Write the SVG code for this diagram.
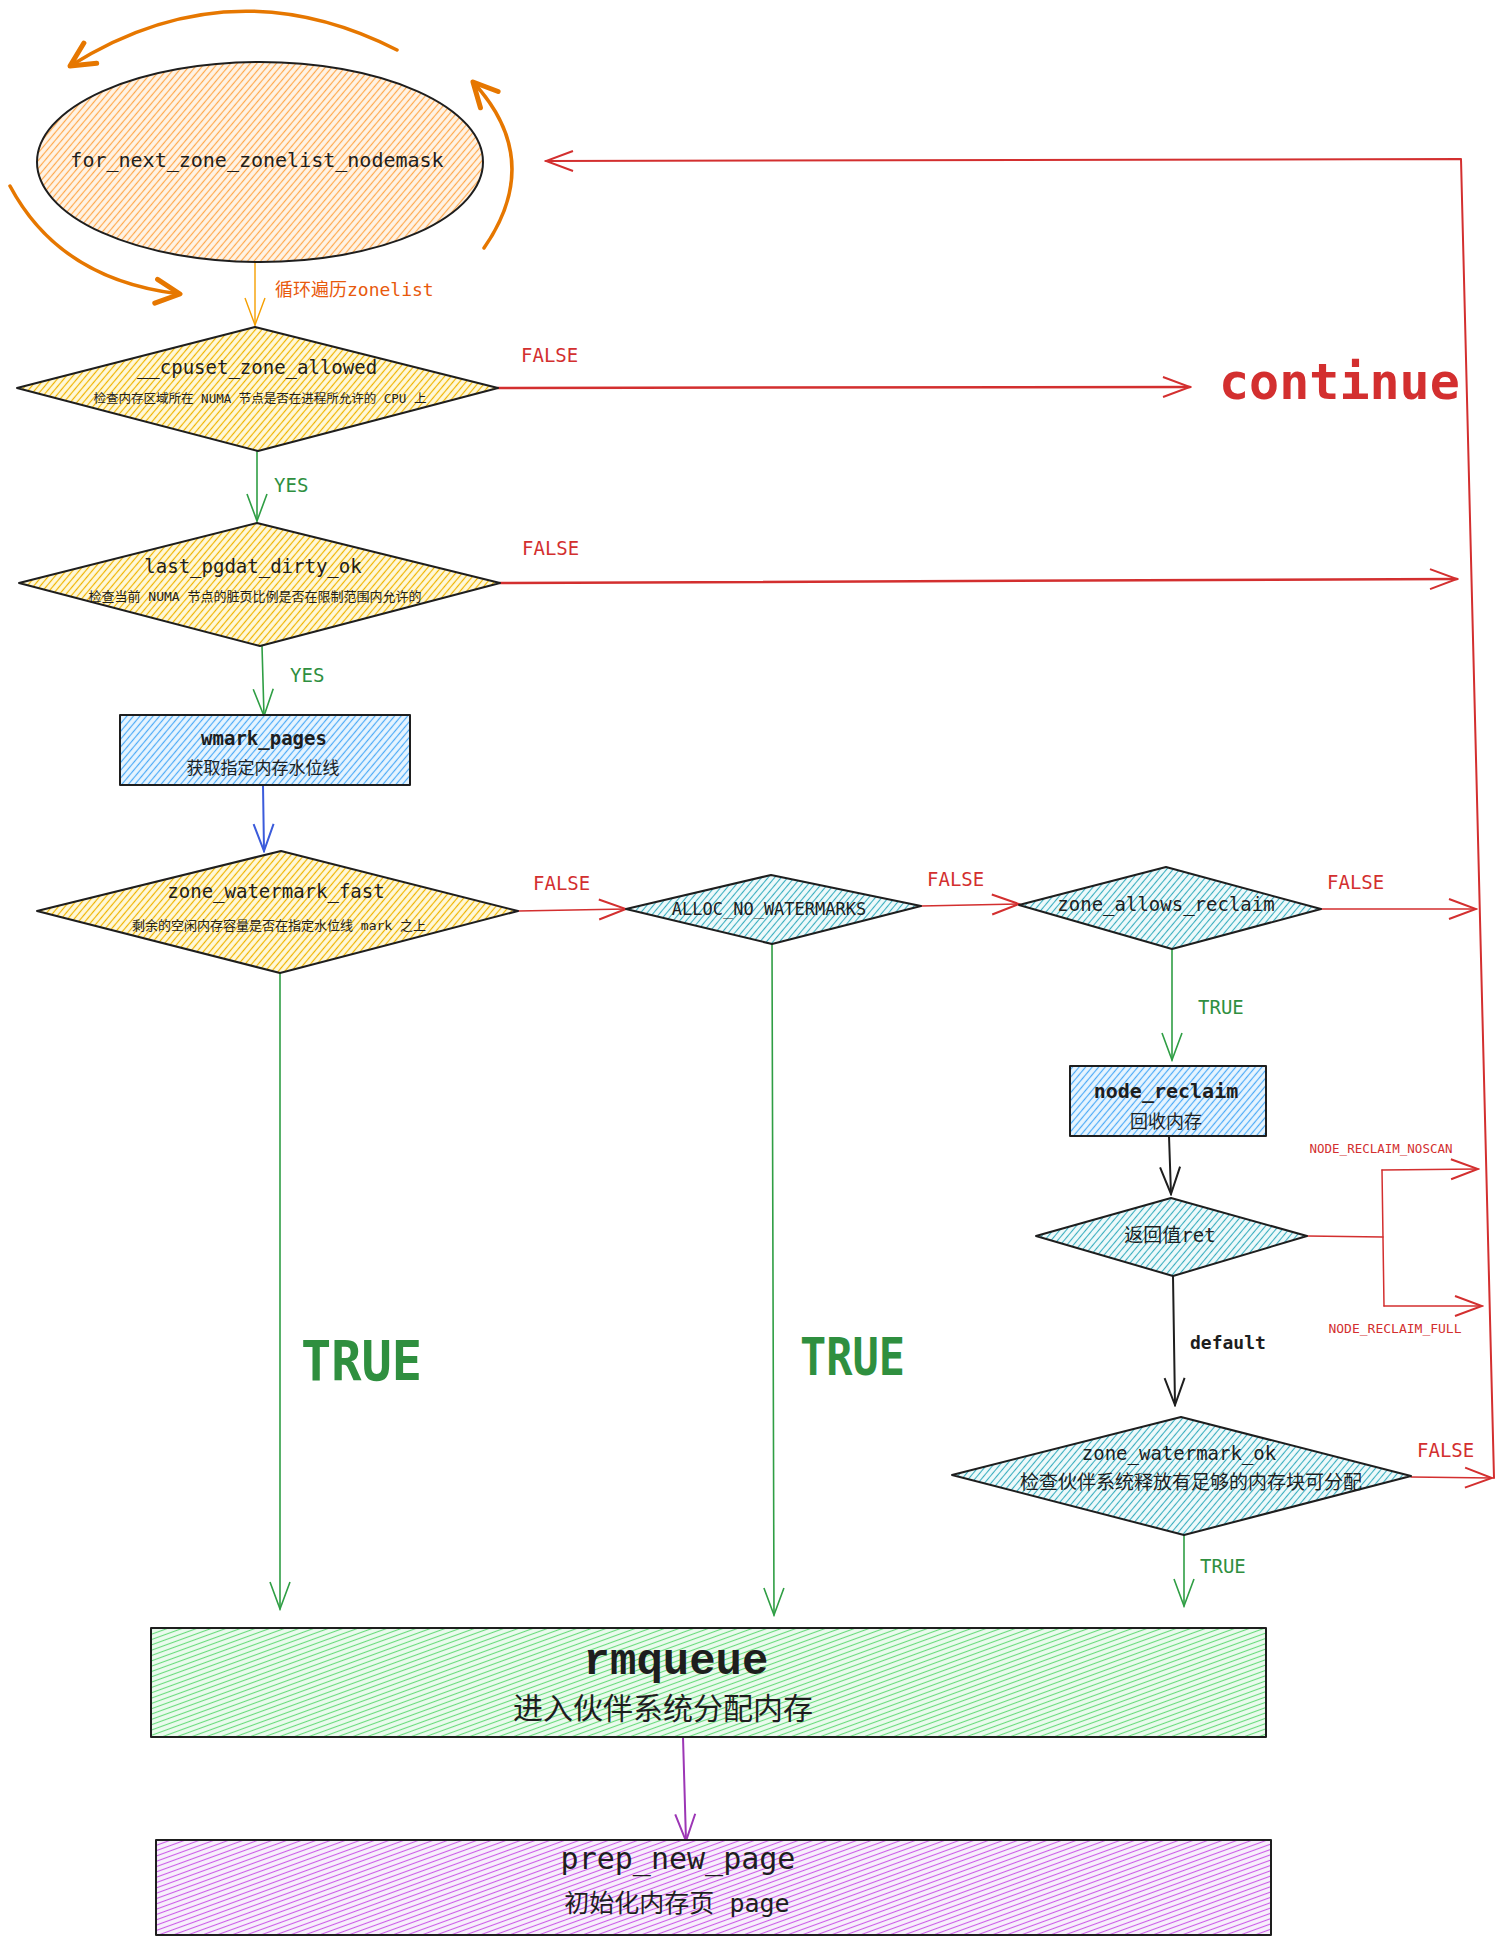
<svg xmlns="http://www.w3.org/2000/svg" width="1500" height="1940" viewBox="0 0 1500 1940">
<style>
.t{font-family:'DejaVu Sans Mono','Noto Sans CJK SC',monospace;fill:#1e1e1e}
.c{text-anchor:middle}
.red{fill:#d32f2f}
.grn{fill:#2f8f3f}
.shape{stroke:#1e1e1e;stroke-width:2;stroke-linejoin:round}
.ln{fill:none;stroke-linecap:round;stroke-linejoin:round}
</style>
<defs>
<pattern id="hO" patternUnits="userSpaceOnUse" width="5" height="5" patternTransform="rotate(40)"><rect width="5" height="5" fill="#fff4e6"/><line x1="2.5" y1="0" x2="2.5" y2="5" stroke="#ffa94d" stroke-width="1.2"/></pattern>
<pattern id="hY" patternUnits="userSpaceOnUse" width="5" height="5" patternTransform="rotate(40)"><rect width="5" height="5" fill="#fff9db"/><line x1="2.5" y1="0" x2="2.5" y2="5" stroke="#f0b400" stroke-width="1.2"/></pattern>
<pattern id="hB" patternUnits="userSpaceOnUse" width="5" height="5" patternTransform="rotate(40)"><rect width="5" height="5" fill="#e7f5ff"/><line x1="2.5" y1="0" x2="2.5" y2="5" stroke="#4dabf7" stroke-width="1.2"/></pattern>
<pattern id="hT" patternUnits="userSpaceOnUse" width="5" height="5" patternTransform="rotate(40)"><rect width="5" height="5" fill="#eefafb"/><line x1="2.5" y1="0" x2="2.5" y2="5" stroke="#3aaebf" stroke-width="1.1"/></pattern>
<pattern id="hG" patternUnits="userSpaceOnUse" width="5" height="5" patternTransform="rotate(70)"><rect width="5" height="5" fill="#ebfbee"/><line x1="2.5" y1="0" x2="2.5" y2="5" stroke="#69db7c" stroke-width="1.1"/></pattern>
<pattern id="hP" patternUnits="userSpaceOnUse" width="5" height="5" patternTransform="rotate(70)"><rect width="5" height="5" fill="#f8f0fc"/><line x1="2.5" y1="0" x2="2.5" y2="5" stroke="#cc5de8" stroke-width="1.1"/></pattern>
<marker id="aR" viewBox="0 0 30 24" refX="28" refY="12" markerWidth="30" markerHeight="24" markerUnits="userSpaceOnUse" orient="auto"><path d="M1,2 L28,12 L1,22" fill="none" stroke="#d32f2f" stroke-width="2"/></marker>
<marker id="aG" viewBox="0 0 30 24" refX="28" refY="12" markerWidth="30" markerHeight="24" markerUnits="userSpaceOnUse" orient="auto"><path d="M1,2 L28,12 L1,22" fill="none" stroke="#2f9e44" stroke-width="1.6"/></marker>
<marker id="aK" viewBox="0 0 30 24" refX="28" refY="12" markerWidth="30" markerHeight="24" markerUnits="userSpaceOnUse" orient="auto"><path d="M1,2 L28,12 L1,22" fill="none" stroke="#1e1e1e" stroke-width="2"/></marker>
<marker id="aB" viewBox="0 0 30 24" refX="28" refY="12" markerWidth="30" markerHeight="24" markerUnits="userSpaceOnUse" orient="auto"><path d="M1,2 L28,12 L1,22" fill="none" stroke="#3b5bdb" stroke-width="2"/></marker>
<marker id="aP" viewBox="0 0 30 24" refX="28" refY="12" markerWidth="30" markerHeight="24" markerUnits="userSpaceOnUse" orient="auto"><path d="M1,2 L28,12 L1,22" fill="none" stroke="#9c36b5" stroke-width="2"/></marker>
<marker id="aOs" viewBox="0 0 30 24" refX="28" refY="12" markerWidth="30" markerHeight="24" markerUnits="userSpaceOnUse" orient="auto"><path d="M1,2 L28,12 L1,22" fill="none" stroke="#f59f00" stroke-width="1.4"/></marker>
<marker id="aO" viewBox="0 0 30 30" refX="27" refY="15" markerWidth="30" markerHeight="30" markerUnits="userSpaceOnUse" orient="auto"><path d="M3,3 L27,15 L3,27" fill="none" stroke="#e67700" stroke-width="5" stroke-linecap="round" stroke-linejoin="round"/></marker>
</defs>
<rect width="1500" height="1940" fill="#ffffff"/>

<g id="loop-arrows" class="ln" stroke="#e67700" stroke-width="3.5">
<path d="M397,50 Q230,-35 70,66" marker-end="url(#aO)"/>
<path d="M484,248 Q545,160 473,82" marker-end="url(#aO)"/>
<path d="M10,186 Q60,280 180,294" marker-end="url(#aO)"/>
</g>

<g id="connectors" class="ln">
<path d="M255,263 L255,325" stroke="#f59f00" stroke-width="1.4" marker-end="url(#aOs)"/>
<path d="M257,451 L257,521" stroke="#2f9e44" stroke-width="1.6" marker-end="url(#aG)"/>
<path d="M262,646 L264,716" stroke="#2f9e44" stroke-width="1.6" marker-end="url(#aG)"/>
<path d="M263,785 L264,851" stroke="#3b5bdb" stroke-width="2" marker-end="url(#aB)"/>
<path d="M498,388 L1190,387" stroke="#d32f2f" stroke-width="2.5" marker-end="url(#aR)"/>
<path d="M500,583 L1457,579" stroke="#d32f2f" stroke-width="2.5" marker-end="url(#aR)"/>
<path d="M518,911 L626,909" stroke="#d32f2f" stroke-width="1.5" marker-end="url(#aR)"/>
<path d="M921,906 L1019,904" stroke="#d32f2f" stroke-width="1.5" marker-end="url(#aR)"/>
<path d="M1321,909 L1476,909" stroke="#d32f2f" stroke-width="1.5" marker-end="url(#aR)"/>
<path d="M1172,949 L1172,1060" stroke="#2f9e44" stroke-width="1.6" marker-end="url(#aG)"/>
<path d="M1169,1136 L1171,1194" stroke="#1e1e1e" stroke-width="2" marker-end="url(#aK)"/>
<path d="M1307,1236 L1383,1237" stroke="#d32f2f" stroke-width="1.5"/>
<path d="M1382,1170 L1384,1306" stroke="#d32f2f" stroke-width="1.5"/>
<path d="M1382,1170 L1478,1169" stroke="#d32f2f" stroke-width="1.5" marker-end="url(#aR)"/>
<path d="M1384,1306 L1482,1306" stroke="#d32f2f" stroke-width="1.5" marker-end="url(#aR)"/>
<path d="M1173,1276 L1175,1405" stroke="#1e1e1e" stroke-width="2" marker-end="url(#aK)"/>
<path d="M1411,1477 L1492,1478" stroke="#d32f2f" stroke-width="1.5" marker-end="url(#aR)"/>
<path d="M1184,1535 L1184,1606" stroke="#2f9e44" stroke-width="1.6" marker-end="url(#aG)"/>
<path d="M280,973 L280,1609" stroke="#2f9e44" stroke-width="1.6" marker-end="url(#aG)"/>
<path d="M772,944 L774,1615" stroke="#2f9e44" stroke-width="1.6" marker-end="url(#aG)"/>
<path d="M683,1737 L686,1841" stroke="#9c36b5" stroke-width="2" marker-end="url(#aP)"/>
<path d="M1494,1478 L1461,159 L546,161" stroke="#d32f2f" stroke-width="2" marker-end="url(#aR)"/>
</g>

<g id="labels">
<text class="t" x="275" y="296" font-size="18" style="fill:#e8590c">循环遍历zonelist</text>
<text class="t red" x="521" y="362" font-size="19">FALSE</text>
<text class="t red" x="1219" y="399" font-size="50" font-weight="bold">continue</text>
<text class="t grn" x="274" y="492" font-size="19">YES</text>
<text class="t red" x="522" y="555" font-size="19">FALSE</text>
<text class="t grn" x="290" y="682" font-size="19">YES</text>
<text class="t red" x="533" y="890" font-size="19">FALSE</text>
<text class="t red" x="927" y="886" font-size="19">FALSE</text>
<text class="t red" x="1327" y="889" font-size="19">FALSE</text>
<text class="t grn" x="1198" y="1014" font-size="19">TRUE</text>
<text class="t red c" x="1381" y="1153" font-size="12.5">NODE_RECLAIM_NOSCAN</text>
<text class="t red c" x="1395" y="1333" font-size="13">NODE_RECLAIM_FULL</text>
<text class="t" x="1190" y="1349" font-size="18" font-weight="bold">default</text>
<text class="t red" x="1417" y="1457" font-size="19">FALSE</text>
<text class="t grn" x="1200" y="1573" font-size="19">TRUE</text>
<text class="t grn" x="301" y="1380" font-size="56" font-weight="bold" textLength="121" lengthAdjust="spacingAndGlyphs">TRUE</text>
<text class="t grn" x="800" y="1375" font-size="51" font-weight="bold" textLength="105" lengthAdjust="spacingAndGlyphs">TRUE</text>
</g>

<g id="node-for-next-zone">
<ellipse cx="260" cy="162" rx="223" ry="100" fill="url(#hO)" class="shape"/>
<text class="t c" x="257" y="167" font-size="20">for_next_zone_zonelist_nodemask</text>
</g>

<g id="node-cpuset-zone-allowed">
<polygon points="17,388 255,327 498,388 258,451" fill="url(#hY)" class="shape"/>
<text class="t c" x="257" y="374" font-size="19">__cpuset_zone_allowed</text>
<text class="t c" x="260" y="403" font-size="12.5">检查内存区域所在 NUMA 节点是否在进程所允许的 CPU 上</text>
</g>

<g id="node-last-pgdat-dirty-ok">
<polygon points="19,583 257,523 500,583 260,646" fill="url(#hY)" class="shape"/>
<text class="t c" x="253" y="573" font-size="19">last_pgdat_dirty_ok</text>
<text class="t c" x="255" y="601" font-size="13">检查当前 NUMA 节点的脏页比例是否在限制范围内允许的</text>
</g>

<g id="node-wmark-pages">
<rect x="120" y="715" width="290" height="70" fill="url(#hB)" class="shape"/>
<text class="t c" x="264" y="745" font-size="19" font-weight="bold">wmark_pages</text>
<text class="t c" x="263" y="774" font-size="17">获取指定内存水位线</text>
</g>

<g id="node-zone-watermark-fast">
<polygon points="37,911 281,851 518,911 280,973" fill="url(#hY)" class="shape"/>
<text class="t c" x="276" y="898" font-size="19">zone_watermark_fast</text>
<text class="t c" x="279" y="930" font-size="13">剩余的空闲内存容量是否在指定水位线 mark 之上</text>
</g>

<g id="node-alloc-no-watermarks">
<polygon points="626,909 771,875 921,906 772,944" fill="url(#hT)" class="shape"/>
<text class="t c" x="769" y="915" font-size="17">ALLOC_NO_WATERMARKS</text>
</g>

<g id="node-zone-allows-reclaim">
<polygon points="1019,905 1166,867 1321,909 1172,949" fill="url(#hT)" class="shape"/>
<text class="t c" x="1166" y="911" font-size="19">zone_allows_reclaim</text>
</g>

<g id="node-node-reclaim">
<rect x="1070" y="1066" width="196" height="70" fill="url(#hB)" class="shape"/>
<text class="t c" x="1166" y="1098" font-size="20" font-weight="bold">node_reclaim</text>
<text class="t c" x="1166" y="1128" font-size="18">回收内存</text>
</g>

<g id="node-ret">
<polygon points="1036,1236 1171,1198 1307,1236 1173,1276" fill="url(#hT)" class="shape"/>
<text class="t c" x="1170" y="1242" font-size="19">返回值ret</text>
</g>

<g id="node-zone-watermark-ok">
<polygon points="952,1475 1181,1417 1411,1476 1184,1535" fill="url(#hT)" class="shape"/>
<text class="t c" x="1179" y="1460" font-size="19">zone_watermark_ok</text>
<text class="t c" x="1191" y="1489" font-size="19">检查伙伴系统释放有足够的内存块可分配</text>
</g>

<g id="node-rmqueue">
<rect x="151" y="1628" width="1115" height="109" fill="url(#hG)" class="shape"/>
<text x="676" y="1674" font-size="44" font-weight="bold" text-anchor="middle" font-family="'Liberation Mono','DejaVu Sans Mono',monospace" fill="#1e1e1e">rmqueue</text>
<text class="t c" x="663" y="1719" font-size="30">进入伙伴系统分配内存</text>
</g>

<g id="node-prep-new-page">
<rect x="156" y="1840" width="1115" height="95" fill="url(#hP)" class="shape"/>
<text class="t c" x="678" y="1869" font-size="30">prep_new_page</text>
<text class="t c" x="677" y="1912" font-size="25">初始化内存页 page</text>
</g>
</svg>
